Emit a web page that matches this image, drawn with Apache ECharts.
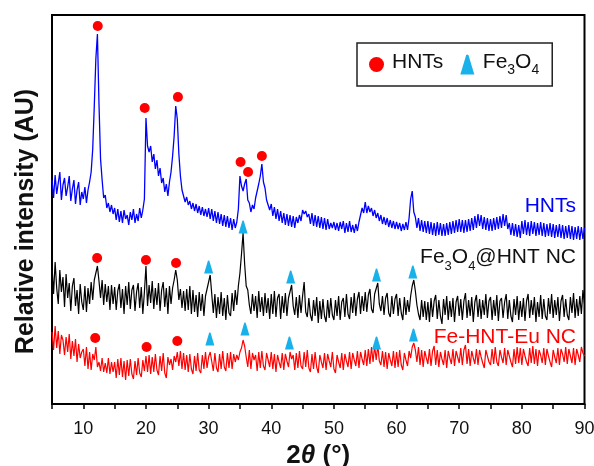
<!DOCTYPE html>
<html><head><meta charset="utf-8">
<script src="https://cdn.jsdelivr.net/npm/echarts@6/dist/echarts.min.js"></script>
<style>html,body{margin:0;padding:0;background:#fff;}#c{width:594px;height:466px;}</style>
</head><body><div id="c"></div>
<script>
// 2θ sampling grid: 5° to 90° in 0.25° steps
const thetaStart = 5, thetaStep = 0.25;
// Relative intensity (arbitrary units), one value per grid point
const hnts = [
224,206,229,210,221,232,204,219,226,208,217,228,203,215,224,200,214,222,199,212,
205,217,201,214,222,232,255,298,345,370,300,245,224,206,209,196,201,192,199,190,
196,184,195,182,193,181,194,185,189,179,192,184,195,181,190,183,196,186,194,205,
286,258,252,258,242,250,235,244,228,236,221,226,212,220,208,222,232,248,268,298,
285,250,228,214,212,202,207,199,203,195,201,193,200,191,198,189,197,188,195,187,
196,185,195,183,193,181,192,180,190,178,189,177,188,176,186,174,185,176,182,195,
228,218,213,220,225,204,201,192,199,195,206,205,220,228,240,222,216,204,206,194,
200,188,197,185,195,183,193,181,191,179,190,178,189,177,188,176,187,181,189,183,
194,190,193,187,190,180,191,178,189,177,188,176,187,175,186,174,185,175,181,176,
182,174,181,173,182,175,183,171,181,172,183,172,179,171,180,173,182,183,196,191,
202,191,198,192,196,188,194,186,191,183,189,180,187,179,186,177,184,176,183,175,
182,175,181,173,180,174,182,174,186,205,213,192,187,176,186,173,184,172,183,171,
183,170,182,169,181,168,182,169,181,168,180,168,181,169,182,170,183,171,184,172,
185,172,184,171,184,172,185,173,186,174,188,176,190,178,189,175,187,174,186,173,
185,173,186,174,187,175,188,176,190,178,189,175,181,169,181,168,180,167,179,166,
183,170,184,169,182,168,183,170,182,168,181,169,182,168,181,167,180,168,181,167,
180,166,179,167,180,166,179,165,178,166,179,165,178,164,177,165,178,164,177,165,
176];
const fe3o4Hnt = [
138,110,142,116,100,134,112,127,97,130,106,121,93,118,126,98,114,90,120,102,
94,118,92,116,100,122,104,124,126,138,123,106,124,99,120,102,118,94,119,100,
117,94,113,120,96,115,90,118,99,122,95,114,119,93,112,121,96,117,90,112,
138,98,119,101,123,95,116,99,121,93,114,122,97,116,90,118,100,116,124,134,
124,104,115,96,113,93,115,94,118,90,114,92,109,87,112,93,110,88,108,115,
122,129,110,91,110,86,107,90,112,88,106,84,109,91,88,111,93,114,99,118,
131,150,171,140,118,114,99,90,110,93,108,86,113,92,107,88,111,91,106,85,
110,90,113,87,106,110,85,108,91,111,88,106,108,119,98,89,107,86,109,91,
108,122,92,87,106,89,83,104,88,107,81,103,85,105,88,82,104,86,106,89,
84,104,88,108,84,102,106,87,110,90,85,107,91,111,88,105,112,90,108,93,
112,92,109,115,95,91,110,112,121,100,93,108,89,106,111,91,87,108,90,105,
110,88,106,91,84,107,89,104,92,108,118,124,113,99,90,84,104,87,103,84,
102,82,106,87,103,109,85,104,88,80,105,89,108,84,103,87,106,82,102,108,
88,105,84,103,111,86,104,88,107,82,102,109,87,105,85,104,89,110,86,103,
107,84,104,88,109,83,103,106,86,102,110,85,104,88,82,105,89,108,84,103,
87,106,83,103,110,86,104,89,107,82,102,87,109,85,105,88,84,106,90,110,
86,104,89,107,83,103,109,87,105,89,84,107,91,111,86,105,88,108,90,114,
100];
const feHntEu = [
72,54,78,56,73,50,69,64,49,67,52,70,45,63,48,65,42,60,46,52,
55,38,57,35,52,34,50,44,57,37,42,33,46,32,41,31,46,30,42,32,
42,26,45,29,46,27,43,24,44,28,45,30,25,43,29,46,31,27,44,33,
48,32,49,30,47,32,50,34,29,48,33,51,31,26,47,39,45,34,48,42,
52,38,53,35,51,34,49,32,50,35,30,48,33,51,34,31,49,35,52,36,
47,52,50,33,51,36,32,50,35,53,37,33,51,36,52,35,50,42,49,44,
52,56,64,58,47,37,54,35,51,44,49,33,52,36,53,38,34,51,44,37,
52,35,50,32,49,42,36,51,34,50,43,37,52,45,49,34,51,36,53,38,
35,52,37,54,36,32,50,35,52,37,31,49,42,36,51,34,50,43,37,52,
35,31,49,42,36,51,34,50,43,37,52,35,51,44,38,53,36,52,45,39,
54,38,55,40,57,42,58,44,59,43,39,53,37,52,35,51,44,38,53,36,
52,37,54,39,34,51,44,38,53,46,57,61,54,42,57,39,54,37,53,46,
40,55,38,53,58,39,54,37,52,45,39,54,36,53,46,40,55,38,53,47,
41,56,39,54,59,40,55,38,53,46,40,55,39,54,47,41,36,54,48,42,
39,55,40,57,42,38,54,47,41,56,39,54,48,42,37,55,40,57,41,56,
39,55,48,42,38,56,41,58,40,55,38,54,49,41,56,39,55,48,42,37,
54,47,41,56,39,55,50,42,57,40,55,48,41,56,39,55,49,42,57,51,
48];
// Peak assignment markers [2θ, intensity]
const hntsPeaks = [[12.3,378],[19.8,296],[25.1,307],[35.1,242],[36.3,232],[38.5,248],
  [12.2,146],[20.0,144],[24.8,141],[11.9,66],[20.1,57],[25.0,63]];
const fe3o4Peaks = [[30.0,137],[35.5,177],[43.1,127],[56.8,129],[62.6,132],
  [30.2,65],[35.8,75],[42.9,61],[56.8,61],[62.7,69]];
const xTicks = [10,20,30,40,50,60,70,80,90];

const FONT = 'Liberation Sans, Arial, sans-serif';
const TRI = 'path://M4.2,0 Q5,-0.6 5.8,0 L10,14 L0,14 Z';
function pair(arr){ return arr.map((v,i)=>[thetaStart + i*thetaStep, v]); }
function lineSeries(name, arr, color, w){
  return {name, type:'line', data: pair(arr), showSymbol:false, symbol:'none',
    lineStyle:{color, width:w}, itemStyle:{color}, animation:false, z:2};
}
const chart = echarts.init(document.getElementById('c'), null, {renderer:'canvas'});
chart.setOption({
  animation:false,
  grid:{left:52, right:9.5, top:15, bottom:62, show:true, borderColor:'#000', borderWidth:2,
    containLabel:false, outerBoundsMode:'none'},
  xAxis:{type:'value', min:5, max:90, interval:5,
    axisLine:{show:true, lineStyle:{color:'#000', width:2}},
    axisTick:{show:true, inside:false, length:5, lineStyle:{color:'#000', width:1.5}},
    axisLabel:{color:'#111', fontFamily:FONT, fontSize:18, margin:16,
      formatter:v=> xTicks.includes(v) ? String(v) : ''},
    splitLine:{show:false},
    name:'{b|2}{i|θ}{b| (°)}', nameLocation:'middle', nameGap:38,
    nameTextStyle:{rich:{
      b:{fontFamily:FONT, fontSize:26, fontWeight:'bold', color:'#111'},
      i:{fontFamily:FONT, fontSize:26, fontWeight:'bold', fontStyle:'italic', color:'#111'}}}
  },
  yAxis:{type:'value', min:0, max:389,
    axisLine:{show:true, lineStyle:{color:'#000', width:2}},
    axisTick:{show:false}, axisLabel:{show:false}, splitLine:{show:false},
    name:'Relative intensity (AU)', nameLocation:'middle', nameGap:13, nameRotate:90,
    nameTextStyle:{fontFamily:FONT, fontSize:25, fontWeight:'bold', color:'#111', padding:[0,24,0,0]}
  },
  legend:{left:357, top:43, orient:'horizontal', padding:[9,13,9,12],
    borderColor:'#222', borderWidth:1.5, itemGap:17, itemWidth:15, itemHeight:20,
    data:[{name:'HNTs', icon:'circle'}, {name:'Fe3O4', icon:TRI}],
    formatter:n=> n==='Fe3O4' ? '{f|Fe}{s|3}{n|O}{s|4}' : '{f|'+n+'}',
    textStyle:{fontFamily:FONT, fontSize:21, color:'#111', rich:{
      f:{fontFamily:FONT, fontSize:21, color:'#111', verticalAlign:'bottom', padding:[0,0,4,3]},
      n:{fontFamily:FONT, fontSize:21, color:'#111', verticalAlign:'bottom', padding:[0,0,4,0]},
      s:{fontFamily:FONT, fontSize:14, color:'#111', verticalAlign:'bottom'}}}
  },
  series:[
    lineSeries('HNTs pattern', hnts, '#0000ff', 1.3),
    lineSeries('Fe3O4@HNT NC', fe3o4Hnt, '#000000', 1.2),
    lineSeries('Fe-HNT-Eu NC', feHntEu, '#ff0000', 1.2),
    {name:'HNTs', type:'scatter', data:hntsPeaks, symbol:'circle', symbolSize:10,
      itemStyle:{color:'#ff0000', opacity:1}, z:5},
    {name:'Fe3O4', type:'scatter', data:fe3o4Peaks, symbol:TRI, symbolSize:[9,13],
      itemStyle:{color:'#19b1ea', opacity:1}, z:5}
  ],
  graphic:[
    {type:'text', right:18, top:196, style:{text:'HNTs', fill:'#0000ff', font:'21px '+FONT}},
    {type:'text', right:18, top:247, style:{text:'{n|Fe}{s|3}{n|O}{s|4}{n|@HNT NC}', fill:'#111',
      rich:{n:{fontFamily:FONT, fontSize:21, fill:'#111', verticalAlign:'bottom', padding:[0,0,5,0]},
            s:{fontFamily:FONT, fontSize:13, fill:'#111', verticalAlign:'bottom'}}}},
    {type:'text', right:18, top:327, style:{text:'Fe-HNT-Eu NC', fill:'#ff0000', font:'21px '+FONT}}
  ]
});
</script></body></html>
